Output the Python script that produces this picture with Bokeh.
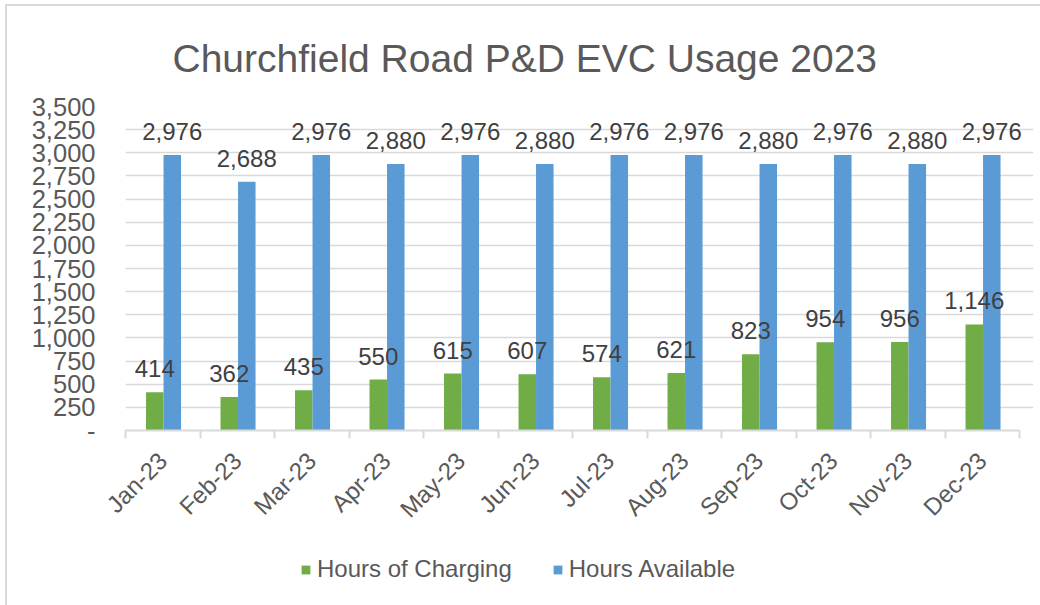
import math
from bokeh.plotting import figure
from bokeh.layouts import column
from bokeh.models import (ColumnDataSource, FixedTicker, NumeralTickFormatter, Legend,
                          LegendItem, Range1d, LabelSet)
from bokeh.core.properties import value
from bokeh.transform import dodge
from bokeh.embed import file_html
from bokeh.resources import INLINE

# ---- data ----
months = ["Jan-23", "Feb-23", "Mar-23", "Apr-23", "May-23", "Jun-23",
          "Jul-23", "Aug-23", "Sep-23", "Oct-23", "Nov-23", "Dec-23"]
charging = [414, 362, 435, 550, 615, 607, 574, 621, 823, 954, 956, 1146]
available = [2976, 2688, 2976, 2880, 2976, 2880, 2976, 2976, 2880, 2976, 2880, 2976]
series_names = ["Hours of Charging", "Hours Available"]
y_ticks = list(range(0, 3501, 250))

GREEN = "#70AD47"
BLUE = "#5B9BD5"
TXT = "#595959"
FONT = "Liberation Sans"

n = len(months)
xc = [i + 0.5 for i in range(n)]
src = ColumnDataSource(dict(
    x=xc, charging=charging, available=available,
    charging_lbl=[f"{v:,}" for v in charging],
    available_lbl=[f"{v:,}" for v in available],
))

W_TOTAL = 1033
H_MAIN = 530
H_LEG = 69
PLOT_PX = 894      # width of the category area in pixels
EXTRA_PX = 14      # extra room on the right so the last label is not clipped
x_end = n + EXTRA_PX * n / PLOT_PX

p = figure(width=W_TOTAL, height=H_MAIN, output_backend="svg", toolbar_location=None,
           x_range=Range1d(0, x_end), y_range=Range1d(0, 3500),
           min_border_left=118, min_border_right=W_TOTAL - 118 - PLOT_PX - EXTRA_PX,
           min_border_top=100, min_border_bottom=106)
p.outline_line_color = None
p.background_fill_color = "white"
p.border_fill_color = "white"

W = 0.235
OFF_G, OFF_B = -0.107, 0.128
p.vbar(x=dodge("x", OFF_G, range=p.x_range), top="charging", width=W,
       source=src, fill_color=GREEN, line_color=None)
p.vbar(x=dodge("x", OFF_B, range=p.x_range), top="available", width=W,
       source=src, fill_color=BLUE, line_color=None)

for off, col, lbl in [(OFF_G, "charging", "charging_lbl"), (OFF_B, "available", "available_lbl")]:
    ls = LabelSet(x=dodge("x", off, range=p.x_range), y=col, text=lbl, source=src,
                  text_align="center", text_baseline="alphabetic", y_offset=15,
                  text_font_size="24px", text_color="#404040", text_font=value(FONT))
    p.add_layout(ls)

# title
p.title.text = "Churchfield Road P&D EVC Usage 2023"
p.title.align = "left"
p.title.offset = 47
p.title.text_font_size = "39px"
p.title.text_font_style = "normal"
p.title.text_color = TXT
p.title.text_font = FONT
p.title.standoff = 54

# grid
p.xgrid.grid_line_color = None
p.ygrid.grid_line_color = "#d9d9d9"
p.ygrid.grid_line_width = 1.5
p.ygrid.ticker = FixedTicker(ticks=y_ticks)
p.ygrid.bounds = (0, n)

# y axis
ya = p.yaxis[0]
ya.ticker = FixedTicker(ticks=y_ticks)
ya.formatter = NumeralTickFormatter(format="0,0")
ya.major_label_overrides = {0: "-"}
ya.axis_line_color = None
ya.major_tick_line_color = None
ya.minor_tick_line_color = None
ya.major_label_text_font_size = "25.5px"
ya.major_label_text_color = TXT
ya.major_label_text_font = FONT
ya.major_label_standoff = 24

# x axis
xa = p.xaxis[0]
xa.bounds = (0, n)
xa.ticker = FixedTicker(ticks=xc, minor_ticks=list(range(n + 1)))
xa.major_label_overrides = {c: m for c, m in zip(xc, months)}
xa.major_label_orientation = math.pi / 4
xa.axis_line_color = "#d9d9d9"
xa.axis_line_width = 2
xa.major_tick_line_color = None
xa.minor_tick_line_color = "#d9d9d9"
xa.minor_tick_line_width = 2
xa.minor_tick_in = 0
xa.minor_tick_out = 8
xa.major_label_text_font_size = "24px"
xa.major_label_text_color = TXT
xa.major_label_text_font = FONT
xa.major_label_standoff = 18

# legend strip (separate figure so the legend is not clipped)
pl = figure(width=W_TOTAL, height=H_LEG, output_backend="svg", toolbar_location=None,
            x_axis_type=None, y_axis_type=None, min_border=0,
            x_range=Range1d(0, 1), y_range=Range1d(0, 1))
pl.outline_line_color = None
pl.xgrid.grid_line_color = None
pl.ygrid.grid_line_color = None
# legend-only renderers (zero-height bars, nothing visible)
g1 = pl.vbar(x=[0.5], top=[0], width=0.1, fill_color=GREEN, line_color=None)
g2 = pl.vbar(x=[0.5], top=[0], width=0.1, fill_color=BLUE, line_color=None)
legend = Legend(items=[LegendItem(label=series_names[0], renderers=[g1]),
                       LegendItem(label=series_names[1], renderers=[g2])],
                orientation="horizontal", location=(175, 22))
legend.label_text_font_size = "24px"
legend.label_text_color = TXT
legend.label_text_font = FONT
legend.glyph_width = 11
legend.glyph_height = 11
legend.spacing = 40
legend.label_standoff = 6
legend.border_line_color = None
legend.background_fill_alpha = 0
legend.padding = 5
legend.margin = 0
pl.add_layout(legend, "center")

layout = column(p, pl, spacing=0)
layout.styles = {"border-top": "2px solid #d9d9d9", "border-left": "2px solid #d9d9d9",
                 "margin-left": "5px", "margin-top": "4px"}

open("out.html", "w").write(file_html(layout, INLINE))
